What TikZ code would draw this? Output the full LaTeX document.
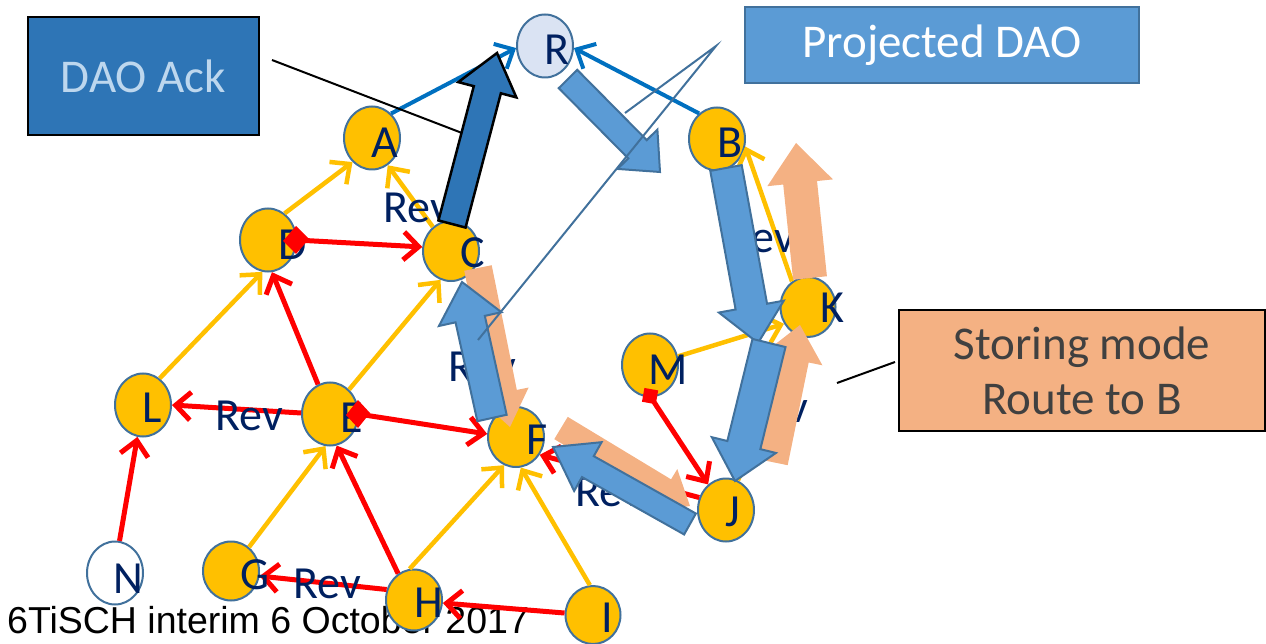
\documentclass[tikz,border=0pt]{standalone}
\usepackage{fontspec}
\setmainfont{Carlito}
\newfontfamily\footfont{Liberation Sans}
\usetikzlibrary{arrows.meta,shapes.geometric,calc}
\definecolor{nodefill}{HTML}{FFC000}
\definecolor{nodeedge}{HTML}{41719C}
\definecolor{rootfill}{HTML}{DAE3F3}
\definecolor{navy}{HTML}{002060}
\definecolor{yel}{HTML}{FFC000}
\definecolor{linkblue}{HTML}{0070C0}
\definecolor{pdao}{HTML}{5B9BD5}
\definecolor{pdaoedge}{HTML}{41719C}
\definecolor{ackblue}{HTML}{2E75B6}
\definecolor{orangefill}{HTML}{F4B183}
\definecolor{acktext}{HTML}{BDD7EE}
\definecolor{graytext}{HTML}{404040}
% block arrow: style, start, end, half shaft, half head, head length
\newcommand\blockarr[6]{%
  \path #2 coordinate (ba-s) #3 coordinate (ba-e);
  \path ($(ba-e)!#6!(ba-s)$) coordinate (ba-h);
  \draw[#1] ($(ba-s)!#4!90:(ba-e)$) -- ($(ba-h)!#4!-90:(ba-s)$) -- ($(ba-h)!#5!-90:(ba-s)$) -- (ba-e) -- ($(ba-h)!#5!90:(ba-s)$) -- ($(ba-h)!#4!90:(ba-s)$) -- ($(ba-s)!#4!-90:(ba-e)$) -- cycle;}
\tikzset{
  rpl/.style={ellipse, draw=nodeedge, line width=2pt, fill=nodefill, minimum width=56pt, minimum height=63pt, inner sep=0pt},
  lbl/.style={text=navy, font=\fontsize{46}{50}\selectfont, inner sep=0pt},
  opentip/.style={-{Straight Barb[length=15pt,width=28pt]}},
  yedge/.style={draw=yel, line width=4.5pt, opentip},
  redge/.style={draw=red, line width=5pt, opentip},
  bedge/.style={draw=linkblue, line width=4pt, opentip},
  pdaoarrow/.style={fill=pdao, draw=pdaoedge, line width=2pt},
  orarrow/.style={fill=orangefill, draw=none},
  ackarrow/.style={fill=ackblue, draw=black, line width=2.5pt},
  callbox/.style={font=\fontsize{47}{55}\selectfont, align=center, inner sep=0pt},
}
\begin{document}
\begin{tikzpicture}[x=1pt,y=-1pt]
\useasboundingbox (0,0) rectangle (1266,644);
% footer (under the nodes)
\node[anchor=base west, font=\footfont\fontsize{37.5}{40}\selectfont, inner sep=0pt] (foot) at (7,633) {6TiSCH interim 6 October 2017};
% nodes
\node[rpl, fill=rootfill] (R) at (545,46) {};
\node[rpl] (A) at (372,138) {};
\node[rpl] (B) at (717,139) {};
\node[rpl] (D) at (268,240) {};
\node[rpl, minimum height=60pt] (C) at (451,251) {};
\node[rpl, minimum width=55pt, minimum height=60pt] (K) at (808,307) {};
\node[rpl] (M) at (650,365) {};
\node[rpl] (L) at (143,405) {};
\node[rpl] (E) at (330,414) {};
\node[rpl, minimum height=60pt] (F) at (516,437) {};
\node[rpl] (J) at (726,510) {};
\node[rpl, fill=white] (N) at (115,573) {};
\node[rpl, minimum height=59pt] (G) at (231,571) {};
\node[rpl, minimum height=61pt] (H) at (414,600) {};
\node[rpl, minimum width=55pt, minimum height=58pt] (I) at (593,615) {};
% red start markers (positions)
\coordinate (dDpos) at (296,240);
\coordinate (dEpos) at (358,414);
\coordinate (sMpos) at (650,396);
% links to root
\draw[bedge] (A.52) -- (R.184);
\draw[bedge] (B.125) -- (R.356);
% yellow links
\draw[yedge] (D.58) -- (A.231);
\draw[yedge] (C.127) -- (A.300);
\draw[yedge] (L.58) -- (D.260);
\draw[yedge] (E.52) -- (C.250);
\draw[yedge] (G.53) -- (E.262);
\draw[yedge] (H.98) -- (F.247);
\draw[yedge] (I.96) -- (F.279);
\draw[yedge] (K.122) -- (B.-15);
\draw[yedge] (M) -- (K.215);
\draw[yedge] (J) -- (K);
% red links
\draw[redge] (dDpos) -- (C.172);
\draw[redge] (E.112) -- (D.277);
\draw[redge] (E.178) -- (L.0);
\draw[redge] (dEpos) -- (F.174);
\draw[redge] (N.82) -- (L.260);
\draw[redge] (H.121) -- (E.282);
\draw[redge] (H.159) -- (G.350);
\draw[redge] (I.176) -- (H.354);
\draw[redge] (sMpos) -- (J.125);
\draw[redge] (J.155) -- (F.323);
% node letters
\node[lbl] (tR) at (557,50) {R};
\node[lbl] (tA) at (385,143) {A};
\node[lbl] (tB) at (730,143) {B};
\node[lbl] (tD) at (293,245) {D};
\node[lbl] (tC) at (473,253) {C};
\node[lbl] (tK) at (832,308) {K};
\node[lbl] (tM) at (668,370) {M};
\node[lbl] (tL) at (152,408) {L};
\node[lbl] (tE) at (352,418) {E};
\node[lbl] (tF) at (537,440) {F};
\node[lbl] (tJ) at (733,512) {J};
\node[lbl] (tN) at (128,579) {N};
\node[lbl] (tG) at (255,575) {G};
\node[lbl] (tH) at (429,603) {H};
\node[lbl] (tI) at (607,618) {I};
% markers (on top of the letters)
\fill[red] ($(dDpos)+(-13,1)$) -- ($(dDpos)+(0,-14)$) -- ($(dDpos)+(13,-1)$) -- ($(dDpos)+(0,14)$) -- cycle;
\fill[red] ($(dEpos)+(-12,1)$) -- ($(dEpos)+(0,-14)$) -- ($(dEpos)+(12,-1)$) -- ($(dEpos)+(0,14)$) -- cycle;
\fill[red, rotate around={-10:(sMpos)}] ($(sMpos)+(-7,-7)$) rectangle ($(sMpos)+(7,7)$);
% Rev labels
\node[lbl] (rv1) at (417,208) {Rev};
\node[lbl] (rv2) at (249,416) {Rev};
\node[lbl] (rv3) at (327,584) {Rev};
\node[lbl] (rv4) at (482,367) {Rev};
\node[lbl] (rv5) at (761,238) {Rev};
\node[lbl] (rv6) at (774,408) {Rev};
\node[lbl] (rv7) at (609,492) {Rev};
% storing mode route (orange)
\blockarr{orarrow}{(478,268)}{(510,427)}{14pt}{26pt}{35pt}
\blockarr{orarrow}{(561,428)}{(690,506)}{13pt}{25pt}{30pt}
\blockarr{orarrow}{(772,462)}{(800,325)}{16pt}{30pt}{35pt}
\blockarr{orarrow}{(810,278)}{(796,143)}{17pt}{33pt}{40pt}
% projected DAO (blue)
\blockarr{pdaoarrow}{(568,79)}{(660,172)}{13pt}{28pt}{32pt}
\blockarr{pdaoarrow}{(726,168)}{(758,343)}{16pt}{33pt}{37pt}
\blockarr{pdaoarrow}{(769,343)}{(735,481)}{17pt}{33pt}{37pt}
\blockarr{pdaoarrow}{(690,524)}{(553,447)}{12pt}{28pt}{40pt}
\blockarr{pdaoarrow}{(492,418)}{(462,282)}{15pt}{32pt}{38pt}
% DAO Ack arrow
\blockarr{ackarrow}{(452,224)}{(497,53)}{14pt}{30pt}{38pt}
% callout boxes
\node[callbox, draw=black, line width=2.5pt, fill=ackblue, text=acktext, minimum width=231pt, minimum height=118pt] (ack) at (143.5,76) {DAO Ack};
\node[callbox, draw=pdaoedge, line width=2.5pt, fill=pdao, text=white, minimum width=394pt, minimum height=76pt] (pdaobox) at (942,45) {Projected DAO};
\node[callbox, draw=black, line width=2.5pt, fill=orangefill, text=graytext, minimum width=366pt, minimum height=121pt] (store) at (1082,370.5) {Storing mode\\Route to B};
% callout lines
\coordinate (ackend) at (462,133);
\coordinate (ackstart) at (272,60);
\draw[black, line width=2pt] (ackstart) -- (ackend);
\coordinate (pd) at (716,46);
\coordinate (pd1) at (625,113);
\coordinate (pd2) at (478,340);
\draw[pdaoedge, line width=2pt] (pd1) -- (pd) -- (pd2);
\coordinate (st1) at (837,383);
\coordinate (st2) at (895,362);
\draw[black, line width=2pt] (st1) -- (st2);
\end{tikzpicture}
\end{document}
